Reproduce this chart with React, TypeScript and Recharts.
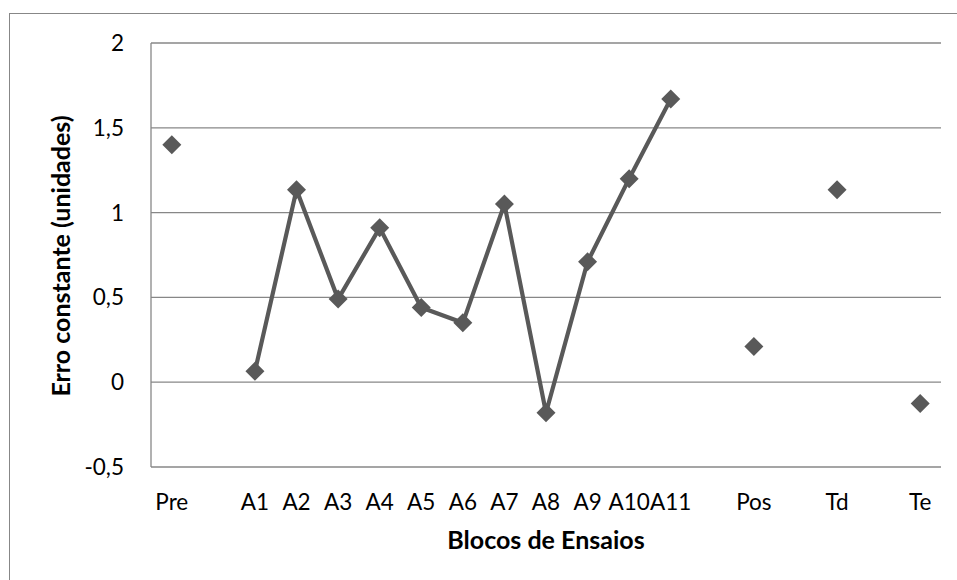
import React from 'react';
import { ComposedChart, Line, XAxis, YAxis, CartesianGrid, Label } from 'recharts';

const xLabels = ['Pre', '', 'A1', 'A2', 'A3', 'A4', 'A5', 'A6', 'A7', 'A8', 'A9', 'A10', 'A11', '', 'Pos', '', 'Td', '', 'Te'];
const errorValues: (number | null)[] = [1.40, null, 0.065, 1.135, 0.49, 0.91, 0.44, 0.35, 1.05, -0.18, 0.71, 1.20, 1.67, null, 0.21, null, 1.135, null, -0.125];
const yTicks = [-0.5, 0, 0.5, 1, 1.5, 2];

const data = xLabels.map((label, i) => ({ slot: i, label, value: errorValues[i] }));

const FONT = 'Lato, "Liberation Sans", sans-serif';
const GRID = '#878787';
const SERIES = '#595959';

const Diamond = (props: any) => {
  const { cx, cy, index } = props;
  if (cx == null || cy == null || isNaN(cx) || isNaN(cy)) return <g key={`d-${index}`} />;
  const r = 9.5;
  return (
    <path
      key={`d-${index}`}
      d={`M${cx},${cy - r}L${cx + r},${cy}L${cx},${cy + r}L${cx - r},${cy}Z`}
      fill={SERIES}
      stroke="none"
    />
  );
};

const YTitle = (props: any) => {
  const vb = props.viewBox;
  const x = vb.x + 60;
  const y = vb.y + vb.height / 2 + 1;
  return (
    <text
      x={x}
      y={y}
      transform={`rotate(-90, ${x}, ${y})`}
      textAnchor="middle"
      dominantBaseline="central"
      fontFamily={FONT}
      fontWeight="bold"
      fontSize={25}
      fill="#000"
    >
      Erro constante (unidades)
    </text>
  );
};

const XTitle = (props: any) => {
  const vb = props.viewBox;
  return (
    <text
      x={vb.x + vb.width / 2}
      y={vb.y + 82}
      textAnchor="middle"
      fontFamily={FONT}
      fontWeight="bold"
      fontSize={25}
      fill="#000"
    >
      Blocos de Ensaios
    </text>
  );
};

export default function App() {
  return (
    <div style={{ position: 'absolute', left: 0, top: 0, width: 957, height: 580, overflow: 'hidden', background: '#fff' }}>
      <div
        style={{
          position: 'absolute',
          left: 9,
          top: 13,
          width: 980,
          height: 620,
          border: `1.3px solid ${GRID}`,
          boxSizing: 'border-box',
        }}
      />
      <div style={{ position: 'absolute', left: 0, top: 0 }}>
        <ComposedChart width={957} height={580} data={data} margin={{ top: 43, right: 16, left: 0, bottom: 0 }}>
          <CartesianGrid vertical={false} stroke={GRID} strokeWidth={1.3} />
          <XAxis
            dataKey="slot"
            type="category"
            scale="band"
            height={113}
            interval={0}
            axisLine={false}
            tickLine={false}
            tickSize={0}
            tickMargin={27}
            tickFormatter={(v: any) => xLabels[v]}
            tick={{ fontFamily: FONT, fontSize: 22.5, fill: '#000' }}
          >
            <Label content={<XTitle />} />
          </XAxis>
          <YAxis
            width={151}
            domain={[-0.5, 2]}
            ticks={yTicks}
            interval={0}
            allowDataOverflow
            axisLine={{ stroke: GRID, strokeWidth: 1.3 }}
            tickLine={false}
            tickSize={0}
            tickMargin={27}
            tickFormatter={(v: number) => String(v).replace('.', ',')}
            tick={{ fontFamily: FONT, fontSize: 22.5, fill: '#000' }}
          >
            <Label content={<YTitle />} />
          </YAxis>
          <Line
            type="linear"
            dataKey="value"
            stroke={SERIES}
            strokeWidth={4.2}
            dot={<Diamond />}
            activeDot={false}
            connectNulls={false}
            isAnimationActive={false}
          />
        </ComposedChart>
      </div>
    </div>
  );
}
